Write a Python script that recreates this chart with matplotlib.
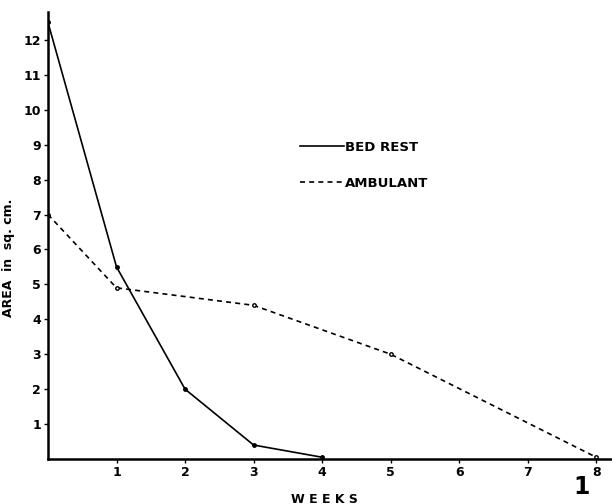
import matplotlib
matplotlib.use("Agg")
import matplotlib.pyplot as plt
from matplotlib.lines import Line2D

weeks_bed = [0, 1, 2, 3, 4]
area_bed = [12.5, 5.5, 2.0, 0.4, 0.05]
weeks_amb = [0, 1, 3, 5, 8]
area_amb = [7.0, 4.9, 4.4, 3.0, 0.05]
xticks = [1, 2, 3, 4, 5, 6, 7, 8]
yticks = list(range(1, 13))

fig = plt.figure(figsize=(6.12, 5.04), dpi=100)
ax = fig.add_axes([0.0784, 0.0893, 0.9216, 0.887])
ax.plot(weeks_bed, area_bed, color="black", lw=1.2, marker="o", ms=2.5)
ax.plot(weeks_amb, area_amb, color="black", lw=1.2, ls=(0, (3, 2.5)),
        marker="o", ms=2.5, mfc="white")
ax.set_xlim(0, 8.23)
ax.set_ylim(0, 12.8)
ax.set_xticks(xticks)
ax.set_yticks(yticks)
for s in ("top", "right"):
    ax.spines[s].set_visible(False)
for s in ("left", "bottom"):
    ax.spines[s].set_linewidth(1.8)
ax.tick_params(direction="out", length=3, width=1, labelsize=9, pad=2)
for lab in ax.get_xticklabels() + ax.get_yticklabels():
    lab.set_fontweight("bold")
ax.set_xlabel("W E E K S", fontsize=9, fontweight="bold")
ax.xaxis.set_label_coords(0.49, -0.075)
ax.set_ylabel("AREA  in  sq. cm.", fontsize=9, fontweight="bold", labelpad=4)
ax.yaxis.set_label_coords(-0.058, 0.45)

handles = [Line2D([], [], color="black", lw=1.2),
           Line2D([], [], color="black", lw=1.2, ls=(0, (3, 2.5)))]
leg = ax.legend(handles, ["BED REST", "AMBULANT"], loc="upper left",
                bbox_to_anchor=(300 / 612, 1 - 141 / 504),
                bbox_transform=fig.transFigure, frameon=False,
                borderpad=0, borderaxespad=0,
                handlelength=3.3, handletextpad=0.1, labelspacing=1.75,
                prop={"weight": "bold", "size": 9.5})

fig.text(582 / 612, 1 - 487 / 504, "1", fontsize=17, fontweight="bold",
         ha="center", va="center")
fig.savefig("out.png", dpi=100, facecolor="white")
